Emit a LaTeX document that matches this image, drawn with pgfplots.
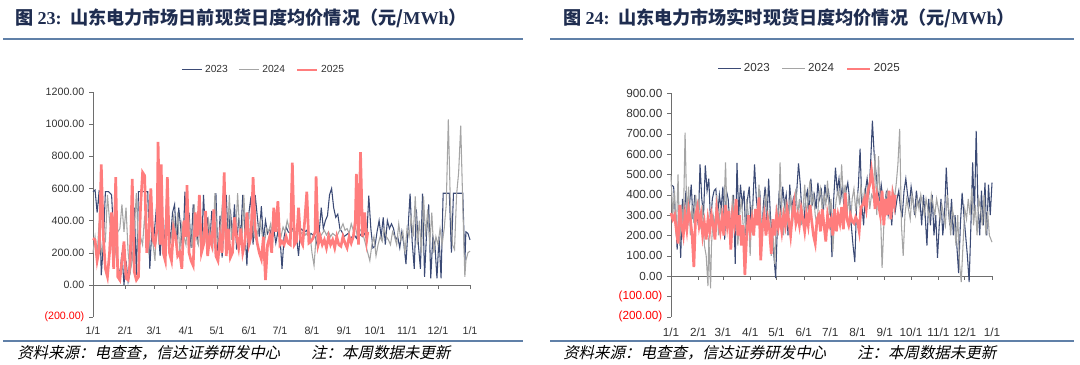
\documentclass[border=0pt]{standalone}
\usepackage{pgfplots}
\pgfplotsset{compat=1.18}
\usepackage{fontspec}
\setmainfont{Liberation Serif}
\setsansfont{Liberation Sans}
\newfontfamily\cjk{Noto Sans CJK SC}
\newfontfamily\cjkit[FakeSlant=0.22]{Noto Sans CJK SC}
\definecolor{c23}{RGB}{59,74,117}
\definecolor{c24}{RGB}{165,165,165}
\definecolor{c25}{RGB}{255,125,125}
\definecolor{titlec}{RGB}{31,45,80}
\definecolor{rulec}{RGB}{96,128,168}
\definecolor{axc}{RGB}{110,110,110}
\definecolor{tickc}{RGB}{50,50,50}
\begin{document}
\begin{tikzpicture}[x=0.75pt,y=-0.75pt]
\path (0,0) rectangle (1080,364);
% titles and rules
\node[anchor=west,text=titlec,inner sep=0pt] at (15,18) {\fontsize{13.6}{15}\selectfont\cjk\bfseries 图 {\rmfamily\bfseries 23:}\ \ 山东电力市场日前现货日度均价情况（元/{\rmfamily\bfseries MWh}）};
\node[anchor=west,text=titlec,inner sep=0pt] at (563,18) {\fontsize{13.6}{15}\selectfont\cjk\bfseries 图 {\rmfamily\bfseries 24:}\ \ 山东电力市场实时现货日度均价情况（元/{\rmfamily\bfseries MWh}）};
\draw[rulec,line width=1.8pt] (3,39) -- (523,39);
\draw[rulec,line width=1.8pt] (550,39) -- (1074,39);
\draw[rulec,line width=1.8pt] (3,341) -- (523,341);
\draw[rulec,line width=1.8pt] (550,341) -- (1074,341);
\node[anchor=west,inner sep=0pt] at (17,353) {\fontsize{11.6}{13}\selectfont\cjkit 资料来源：电查查，信达证券研发中心\qquad 注：本周数据未更新};
\node[anchor=west,inner sep=0pt] at (563,353) {\fontsize{11.6}{13}\selectfont\cjkit 资料来源：电查查，信达证券研发中心\qquad 注：本周数据未更新};

% ---------------- left panel ----------------
\begin{axis}[
  at={(69.75pt,-237.75pt)}, anchor=south west,
  scale only axis, width=282.75pt, height=168.75pt,
  xmin=0, xmax=365, ymin=-200, ymax=1200,
  axis x line=bottom, axis y line=left,
  x axis line style={draw=none}, y axis line style={axc,-},
  xtick={0,31,59,90,120,151,181,212,243,273,304,334,365},
  xticklabels={1/1,2/1,3/1,4/1,5/1,6/1,7/1,8/1,9/1,10/1,11/1,12/1,1/1},
  x tick style={draw=none},
  ytick={-200,0,200,400,600,800,1000,1200},
  yticklabels={\textcolor{red}{(200.00)},0.00,200.00,400.00,600.00,800.00,1000.00,1200.00},
  y tick style={axc}, tick align=outside, major tick length=3pt,
  tick label style={font=\sffamily\fontsize{8}{9}\selectfont, text=tickc},
  xticklabel style={yshift=-1pt},
  legend columns=3,
  legend style={at={(0.4536,1.098)},anchor=center,draw=none,fill=none,
    font=\sffamily\fontsize{7.7}{9}\selectfont,text=tickc,
    /tikz/every even column/.append style={column sep=6pt},inner sep=0pt},
  legend image code/.code={\draw[#1] (0pt,0pt) -- (15pt,0pt);},
  clip=false,
]
\draw[axc] (axis cs:0,0) -- (axis cs:365,0);
\pgfplotsinvokeforeach{0,31,59,90,120,151,181,212,243,273,304,334,365}{\draw[axc] (axis cs:#1,0) -- ++(0pt,-3pt);}
\addplot[c23,line width=0.8pt] coordinates {
(0,580)(2,590)(4,450)(6,590)(8,60)(10,250)(12,580)(15,580)(18,560)(20,300)(22,520)(24,120)(26,60)(28,200)(30,0)(32,150)(34,20)(36,80)(38,300)(40,480)(42,60)(44,580)(47,580)(50,580)(53,580)(55,100)(57,350)(59,300)(61,450)(63,350)(65,180)(67,400)(69,250)(71,500)(73,380)(75,280)(77,450)(79,500)(81,250)(83,480)(85,350)(87,200)(89,580)(91,300)(93,450)(95,230)(97,500)(99,380)(101,280)(103,440)(105,200)(107,560)(109,300)(111,420)(113,250)(115,460)(117,350)(119,570)(121,150)(123,430)(125,170)(127,380)(129,560)(131,250)(133,470)(135,300)(137,500)(139,220)(141,420)(143,300)(145,560)(147,340)(149,120)(151,450)(153,550)(155,250)(157,560)(159,430)(161,300)(163,490)(165,280)(167,400)(169,320)(171,350)(173,300)(175,350)(177,260)(179,330)(181,300)(183,100)(185,300)(187,360)(189,330)(191,320)(193,350)(195,340)(197,300)(199,180)(201,350)(203,340)(205,330)(207,340)(209,300)(211,320)(213,310)(215,300)(217,250)(219,330)(221,480)(223,350)(225,400)(227,430)(229,560)(231,600)(233,480)(235,420)(237,440)(239,350)(241,330)(243,300)(245,310)(247,320)(249,290)(251,300)(253,310)(255,290)(257,330)(259,310)(261,300)(263,320)(265,290)(267,555)(269,350)(271,230)(273,240)(275,330)(277,400)(279,300)(281,420)(283,250)(285,400)(287,350)(289,380)(291,350)(293,280)(295,300)(297,230)(299,330)(301,250)(303,130)(305,350)(307,568)(309,270)(311,100)(313,470)(315,250)(317,100)(319,568)(321,50)(323,330)(325,500)(327,40)(329,300)(331,250)(333,40)(335,300)(337,40)(339,570)(342,570)(345,570)(347,200)(349,570)(352,570)(354,570)(356,570)(358,570)(360,130)(361,330)(363,320)(365,280)
};
\addlegendentry{2023}
\addplot[c24,line width=0.8pt] coordinates {
(0,200)(2,300)(4,180)(6,400)(8,200)(10,250)(12,270)(14,560)(16,400)(18,300)(20,100)(22,230)(24,330)(26,350)(28,500)(30,330)(32,480)(34,200)(36,80)(38,150)(40,350)(42,570)(44,200)(46,300)(48,250)(50,430)(52,250)(54,200)(56,480)(58,260)(60,150)(62,440)(64,250)(66,350)(68,200)(70,300)(72,500)(74,250)(76,300)(78,420)(80,300)(82,450)(84,200)(86,380)(88,300)(90,250)(92,450)(94,350)(96,230)(98,500)(100,300)(102,250)(104,400)(106,280)(108,350)(110,250)(112,400)(114,300)(116,230)(118,570)(120,300)(122,220)(124,400)(126,570)(128,300)(130,250)(132,560)(134,280)(136,400)(138,300)(140,570)(142,330)(144,250)(146,560)(148,300)(150,450)(152,250)(154,500)(156,300)(158,280)(160,350)(162,400)(164,300)(166,260)(168,350)(170,330)(172,380)(174,300)(176,400)(178,350)(180,330)(182,300)(184,360)(186,330)(188,400)(190,350)(192,330)(194,340)(196,320)(198,330)(200,340)(202,320)(204,330)(206,310)(208,330)(210,320)(212,200)(214,120)(216,300)(218,330)(220,300)(222,320)(224,340)(226,310)(228,330)(230,300)(232,320)(234,310)(236,300)(238,330)(240,350)(242,380)(244,340)(246,350)(248,320)(250,380)(252,340)(254,360)(256,300)(258,350)(260,330)(262,300)(264,250)(266,200)(268,150)(270,250)(272,300)(274,180)(276,250)(278,300)(280,270)(282,350)(284,300)(286,280)(288,250)(290,330)(292,300)(294,250)(296,380)(298,280)(300,330)(302,200)(304,350)(306,300)(308,420)(310,300)(312,550)(314,250)(316,400)(318,200)(320,550)(322,300)(324,470)(326,250)(328,450)(330,200)(332,300)(334,250)(336,350)(338,250)(340,350)(342,500)(344,1030)(346,500)(348,250)(350,220)(352,560)(354,700)(356,990)(358,500)(360,50)(361,150)(363,200)(365,210)
};
\addlegendentry{2024}
\addplot[c25,line width=2pt] coordinates {
(0,290)(2,280)(4,150)(6,220)(8,750)(10,300)(12,100)(14,50)(16,200)(18,450)(20,100)(22,670)(24,50)(26,30)(28,150)(30,270)(32,40)(34,30)(36,150)(38,660)(40,80)(42,30)(44,50)(46,480)(48,700)(50,680)(52,200)(54,300)(56,600)(58,280)(60,250)(62,350)(63,890)(65,250)(66,750)(68,200)(70,150)(72,670)(74,200)(76,150)(78,350)(80,300)(82,180)(84,200)(86,100)(88,400)(90,300)(91,620)(93,200)(95,150)(97,120)(99,450)(101,300)(103,560)(105,200)(107,250)(109,460)(111,180)(113,300)(115,250)(117,470)(119,180)(121,150)(123,300)(125,200)(127,700)(129,180)(131,350)(133,170)(135,200)(137,420)(139,300)(141,230)(143,350)(145,200)(147,260)(149,450)(151,250)(153,300)(155,670)(157,350)(159,260)(161,200)(163,160)(165,300)(167,30)(169,250)(171,300)(173,200)(175,480)(177,330)(179,520)(181,250)(183,270)(185,250)(187,300)(189,260)(191,250)(193,760)(195,250)(197,270)(199,480)(201,280)(203,250)(205,400)(207,580)(209,260)(211,270)(213,290)(215,330)(216,675)(218,250)(220,300)(222,250)(224,280)(226,230)(228,300)(230,250)(232,280)(234,230)(236,300)(238,250)(240,240)(242,300)(244,260)(246,230)(248,300)(250,260)(252,300)(254,400)(255,690)(257,250)(259,825)(261,300)(263,450)(265,280)(266,330)
};
\addlegendentry{2025}
\end{axis}

% ---------------- right panel ----------------
\begin{axis}[
  at={(503.25pt,-237.5pt)}, anchor=south west,
  scale only axis, width=240.75pt, height=167.55pt,
  xmin=0, xmax=365, ymin=-200, ymax=900,
  axis x line=bottom, axis y line=left,
  x axis line style={draw=none}, y axis line style={axc,-},
  xtick={0,31,59,90,120,151,181,212,243,273,304,334,365},
  xticklabels={1/1,2/1,3/1,4/1,5/1,6/1,7/1,8/1,9/1,10/1,11/1,12/1,1/1},
  x tick style={draw=none},
  ytick={-200,-100,0,100,200,300,400,500,600,700,800,900},
  yticklabels={\textcolor{red}{(200.00)},\textcolor{red}{(100.00)},0.00,100.00,200.00,300.00,400.00,500.00,600.00,700.00,800.00,900.00},
  y tick style={axc}, tick align=outside, major tick length=3pt,
  tick label style={font=\sffamily\fontsize{8.8}{10}\selectfont, text=tickc},
  xticklabel style={yshift=-2pt},
  legend columns=3,
  legend style={at={(0.433,1.109)},anchor=center,draw=none,fill=none,
    font=\sffamily\fontsize{8.7}{10}\selectfont,text=tickc,
    /tikz/every even column/.append style={column sep=7pt},inner sep=0pt},
  legend image code/.code={\draw[#1] (0pt,0pt) -- (17pt,0pt);},
  clip=false,
]
\draw[axc] (axis cs:0,0) -- (axis cs:365,0);
\pgfplotsinvokeforeach{0,31,59,90,120,151,181,212,243,273,304,334,365}{\draw[axc] (axis cs:#1,0) -- ++(0pt,-3pt);}
\addplot[c23,line width=0.8pt] coordinates {
(0,450)(3,440)(5,300)(7,130)(9,350)(11,90)(13,380)(15,300)(17,420)(19,250)(21,350)(23,450)(25,280)(27,400)(29,330)(31,250)(33,550)(35,380)(37,300)(39,545)(41,420)(43,480)(45,250)(47,380)(49,420)(51,430)(53,300)(55,400)(57,330)(59,440)(61,180)(63,420)(65,380)(67,250)(69,300)(71,400)(73,60)(75,557)(77,300)(79,450)(81,350)(83,420)(85,200)(87,380)(89,440)(91,250)(93,350)(95,550)(97,380)(99,300)(101,420)(103,150)(105,350)(107,440)(109,250)(111,480)(113,300)(115,200)(117,100)(119,-10)(121,250)(123,420)(125,300)(127,440)(129,350)(131,400)(133,200)(135,450)(137,330)(139,380)(141,300)(143,420)(145,555)(147,450)(149,300)(151,250)(153,380)(155,420)(157,300)(159,480)(161,360)(163,400)(165,330)(167,460)(169,380)(171,420)(173,300)(175,450)(177,380)(179,420)(181,350)(183,93)(185,380)(187,534)(189,420)(191,480)(193,380)(195,450)(197,300)(199,420)(201,460)(203,380)(205,250)(207,150)(209,69)(211,350)(213,440)(215,627)(217,350)(219,250)(221,420)(223,480)(225,400)(227,560)(229,765)(231,600)(233,512)(235,420)(237,380)(239,450)(241,380)(243,350)(245,420)(247,300)(249,350)(251,250)(253,400)(255,320)(257,380)(259,420)(261,330)(263,300)(265,420)(267,480)(269,400)(271,350)(273,440)(275,380)(277,300)(279,420)(281,350)(283,380)(285,250)(287,400)(289,300)(291,150)(293,380)(295,250)(297,400)(299,200)(301,300)(303,90)(305,250)(307,380)(309,200)(311,300)(313,534)(315,350)(317,250)(319,380)(321,200)(323,300)(325,150)(327,15)(329,250)(331,410)(333,300)(335,200)(337,100)(339,-30)(341,250)(343,560)(345,300)(347,715)(349,350)(351,200)(353,420)(355,250)(357,460)(359,200)(361,450)(363,300)(365,460)
};
\addlegendentry{2023}
\addplot[c24,line width=0.8pt] coordinates {
(0,495)(2,300)(4,420)(6,200)(8,500)(10,150)(12,350)(14,250)(16,706)(18,300)(20,440)(22,200)(24,350)(26,260)(28,400)(30,300)(32,380)(34,230)(36,350)(38,150)(40,100)(42,-49)(43,200)(45,-60)(46,150)(48,300)(50,250)(52,400)(54,200)(56,350)(58,280)(60,300)(62,560)(64,250)(66,330)(68,200)(70,400)(72,280)(74,350)(76,150)(78,300)(80,380)(82,250)(84,200)(86,380)(88,300)(90,100)(92,350)(94,200)(96,330)(98,250)(100,450)(102,300)(104,200)(106,350)(108,400)(110,250)(112,330)(114,100)(116,200)(118,60)(120,350)(122,200)(124,560)(126,300)(128,200)(130,380)(132,250)(134,300)(136,400)(138,250)(140,350)(142,430)(144,300)(146,380)(148,250)(150,320)(152,450)(154,300)(156,380)(158,470)(160,350)(162,400)(164,300)(166,250)(168,380)(170,430)(172,320)(174,400)(176,350)(178,470)(180,300)(182,380)(184,120)(186,300)(188,380)(190,420)(192,350)(194,550)(196,380)(198,450)(200,300)(202,400)(204,250)(206,380)(208,430)(210,320)(212,400)(214,350)(216,450)(218,350)(220,420)(222,380)(224,450)(226,330)(228,400)(230,380)(232,600)(234,300)(236,590)(238,350)(240,40)(242,250)(244,380)(246,420)(248,350)(250,300)(252,430)(254,380)(256,450)(258,550)(260,725)(262,250)(264,100)(266,300)(268,380)(270,330)(272,280)(274,400)(276,350)(278,300)(280,380)(282,330)(284,400)(286,350)(288,300)(290,380)(292,330)(294,280)(296,400)(298,350)(300,300)(302,380)(304,330)(306,280)(308,350)(310,300)(312,250)(314,400)(316,320)(318,200)(320,330)(322,280)(324,150)(326,300)(328,60)(330,-30)(332,150)(334,330)(336,280)(338,380)(340,300)(342,430)(344,250)(346,350)(348,200)(350,380)(352,330)(354,250)(356,400)(358,200)(360,320)(362,200)(365,167)
};
\addlegendentry{2024}
\addplot[c25,line width=2pt] coordinates {
(0,310)(2,280)(4,300)(6,230)(8,160)(10,350)(12,250)(14,200)(16,300)(18,230)(20,330)(22,280)(24,200)(26,44)(28,300)(30,340)(32,250)(34,300)(36,200)(38,260)(40,180)(42,280)(44,220)(46,300)(48,250)(50,180)(52,330)(54,270)(56,220)(58,290)(60,200)(62,350)(64,250)(66,320)(68,130)(70,300)(72,250)(74,380)(76,200)(78,300)(80,150)(82,250)(84,5)(86,200)(88,300)(90,220)(92,280)(94,200)(96,330)(98,250)(100,387)(102,78)(104,250)(106,300)(108,200)(110,280)(112,230)(114,110)(116,280)(118,200)(120,300)(122,240)(124,290)(126,220)(128,300)(130,250)(132,330)(134,270)(136,200)(138,300)(140,360)(142,260)(144,300)(146,250)(148,330)(150,280)(152,220)(154,300)(156,250)(158,350)(160,270)(162,200)(164,160)(166,280)(168,300)(170,220)(172,330)(174,250)(176,170)(178,300)(180,250)(182,280)(184,200)(186,330)(188,220)(190,300)(192,260)(194,340)(196,230)(198,410)(200,280)(202,250)(204,300)(206,270)(208,260)(210,290)(212,270)(214,220)(216,340)(218,350)(220,380)(222,330)(224,420)(226,450)(228,520)(230,450)(232,330)(234,400)(236,350)(238,300)(240,420)(242,250)(244,380)(246,300)(248,420)(250,280)(252,400)(254,350)(255,400)
};
\addlegendentry{2025}
\end{axis}
\end{tikzpicture}
\end{document}
